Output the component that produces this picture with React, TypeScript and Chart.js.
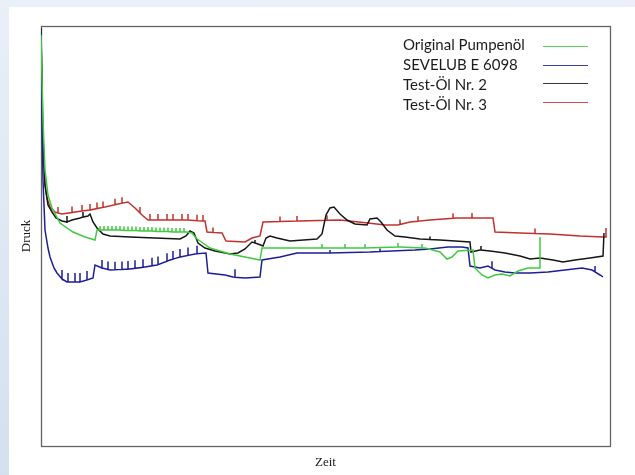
import React, { useEffect, useRef } from "react";
import { Chart, registerables } from "chart.js";

Chart.register(...registerables);

type Pt = [number, number];
type Spike = [number, number, number]; // [zeit, base druck, spike height]

const seriesNames = ["Original Pumpenöl", "SEVELUB E 6098", "Test-Öl Nr. 2", "Test-Öl Nr. 3"];
const seriesColors = ["#3fcb3f", "#1e1e98", "#161616", "#c3302e"];
const xTitle = "Zeit";
const yTitle = "Druck";
const zeitRange: Pt = [0, 569];
const druckRange: Pt = [0, 420];

// Original Pumpenöl
const greenValues: Pt[] = [
  [0, 411], [2, 326], [4, 276], [7, 251], [11, 238], [19, 223], [32, 214], [44, 209], [54, 206],
  [56, 216], [79, 216], [109, 215], [146, 214], [151, 213], [155, 208], [159, 205], [169, 198],
  [189, 192], [209, 188], [219, 186], [221, 198], [259, 198], [309, 198], [359, 199], [384, 198],
  [399, 194], [406, 187], [411, 189], [417, 195], [432, 196], [434, 178], [441, 171], [447, 168],
  [454, 171], [461, 172], [469, 170], [477, 175], [487, 178], [499, 178], [499, 209],
];
const greenSpikes: Spike[] = [
  [59, 216, 4], [63, 216, 4], [67, 216, 4], [71, 216, 4], [75, 216, 4], [79, 216, 4],
  [83, 215.5, 4], [87, 215.5, 4], [91, 215.5, 4], [95, 215.5, 4], [99, 215, 4], [103, 215, 4],
  [107, 215, 4], [111, 215, 4], [115, 214.5, 4], [119, 214.5, 4], [123, 214.5, 4], [127, 214.5, 4],
  [131, 214, 4], [135, 214, 4], [139, 214, 4], [143, 214, 4],
  [281, 198, 4], [304, 198, 4], [324, 198, 4], [357, 199, 4], [381, 198, 4],
];

// SEVELUB E 6098
const blueValues: Pt[] = [
  [0, 416], [1, 326], [2, 266], [4, 216], [7, 198], [9, 189], [13, 178], [16, 173], [21, 167],
  [26, 164], [39, 164], [52, 168], [54, 181], [61, 178], [69, 176], [89, 177], [104, 179],
  [116, 181], [129, 186], [139, 189], [154, 192], [165, 193], [167, 173], [184, 171], [192, 169],
  [204, 168], [219, 169], [221, 186], [239, 189], [256, 193], [289, 193], [329, 194], [374, 196],
  [389, 197], [407, 199], [421, 199], [427, 198], [429, 180], [439, 178], [447, 180], [454, 176],
  [464, 174], [474, 173], [489, 173], [507, 174], [524, 176], [541, 178], [551, 176], [559, 171],
  [562, 169],
];
const blueSpikes: Spike[] = [
  [21, 167, 9], [27, 164, 9], [34, 164, 9], [39, 164, 9], [46, 166, 9],
  [61, 178, 8], [67, 176.5, 8], [74, 176.3, 8], [81, 176.6, 8], [87, 176.9, 8], [94, 177.7, 8],
  [102, 178.7, 8], [111, 180.2, 8], [117, 181.4, 8], [126, 184.8, 8], [132, 186.9, 8],
  [139, 189, 8], [147, 190.6, 8], [156, 192.2, 8],
  [194, 168.8, 8], [289, 193, 3], [339, 194.5, 3], [451, 177.7, 7], [554, 174.1, 6],
];

// Test-Öl Nr. 2
const blackValues: Pt[] = [
  [0, 418], [2, 306], [4, 261], [7, 241], [11, 234], [15, 228], [21, 225], [26, 224], [31, 226],
  [39, 228], [47, 230], [49, 232], [52, 224], [56, 218], [62, 212], [69, 210], [89, 209],
  [114, 208], [139, 207], [145, 210], [149, 215], [153, 213], [157, 203], [164, 198], [174, 195],
  [189, 192], [197, 193], [204, 197], [211, 204], [217, 202], [222, 200], [225, 208], [229, 210],
  [236, 208], [249, 205], [276, 207], [281, 212], [285, 231], [289, 238], [293, 239], [299, 232],
  [306, 226], [314, 222], [326, 221], [329, 227], [336, 228], [340, 224], [346, 216], [354, 210],
  [364, 209], [379, 207], [399, 206], [414, 205], [429, 204], [430, 194], [439, 196], [449, 195],
  [464, 193], [479, 190], [489, 187], [499, 188], [512, 186], [522, 184], [534, 186], [549, 188],
  [562, 190], [563, 213],
];
const blackSpikes: Spike[] = [
  [26, 224, 6], [42, 229, 5], [214, 203, 3], [389, 206.5, 3], [440, 196, 4],
];

// Test-Öl Nr. 3
const redValues: Pt[] = [
  [0, 416], [1, 346], [2, 296], [4, 261], [6, 248], [9, 239], [14, 234], [21, 232], [34, 234],
  [49, 236], [64, 239], [77, 242], [87, 244], [94, 238], [101, 231], [107, 226], [134, 226],
  [164, 225], [166, 214], [181, 213], [185, 205], [204, 204], [211, 208], [219, 210], [222, 224],
  [259, 225], [299, 226], [327, 223], [344, 221], [357, 221], [369, 224], [389, 226], [414, 228],
  [452, 228], [454, 214], [479, 213], [509, 212], [539, 210], [562, 209], [565, 209], [565, 218],
];
const redSpikes: Spike[] = [
  [17, 233, 6], [31, 233.5, 6], [41, 235, 6], [49, 236, 6], [56, 237.4, 6], [62, 238.6, 6],
  [74, 241.3, 6], [81, 242.8, 6], [99, 233, 6], [109, 226, 6], [117, 226, 6], [126, 226, 6],
  [132, 226, 6], [141, 226, 6], [147, 226, 6], [156, 225.3, 6], [162, 225, 6], [172, 213.6, 5],
  [239, 224.5, 5], [256, 225, 5], [286, 225.7, 5], [359, 221.5, 5], [377, 224.8, 5],
  [412, 227.8, 5], [431, 228, 5], [494, 212.5, 5],
];

function buildPoints(values: Pt[], spikes: Spike[]) {
  const pts: Pt[] = values.map((p) => [p[0], p[1]]);
  spikes.forEach(([x, b, h]) => {
    pts.push([x, b], [x, b + h], [x, b]);
  });
  return pts.sort((a, b) => a[0] - b[0]).map(([x, y]) => ({ x, y }));
}

const allValues = [greenValues, blueValues, blackValues, redValues];
const allSpikes = [greenSpikes, blueSpikes, blackSpikes, redSpikes];

const framePlugin = {
  id: "frame",
  beforeDatasetsDraw(chart: any) {
    const { ctx, chartArea: a } = chart;
    ctx.save();
    ctx.strokeStyle = "#636363";
    ctx.lineWidth = 1.3;
    ctx.strokeRect(
      Math.round(a.left) + 0.5,
      Math.round(a.top) + 0.5,
      Math.round(a.right - a.left),
      Math.round(a.bottom - a.top)
    );
    ctx.restore();
  },
};

export default function App() {
  const canvasRef = useRef<HTMLCanvasElement | null>(null);

  useEffect(() => {
    if (!canvasRef.current) return;
    const chart = new Chart(canvasRef.current, {
      type: "line",
      data: {
        datasets: seriesNames.map((name, i) => ({
          label: name,
          data: buildPoints(allValues[i], allSpikes[i]),
          borderColor: seriesColors[i],
          backgroundColor: seriesColors[i],
          borderWidth: 1.5,
          pointRadius: 0,
          tension: 0,
          fill: false,
        })),
      },
      options: {
        animation: false,
        responsive: false,
        devicePixelRatio: 1,
        layout: { padding: { left: 10, top: 26, right: 25, bottom: 2.4 } },
        plugins: { legend: { display: false }, tooltip: { enabled: false } },
        scales: {
          x: {
            type: "linear",
            min: zeitRange[0],
            max: zeitRange[1],
            ticks: { display: false },
            grid: { display: false, drawTicks: false },
            border: { display: false },
            title: {
              display: true,
              text: xTitle,
              color: "#1a1a1a",
              font: { family: "'Liberation Serif', 'DejaVu Serif', serif", size: 13 },
              padding: { top: 9, bottom: 2 },
            },
          },
          y: {
            type: "linear",
            min: druckRange[0],
            max: druckRange[1],
            ticks: { display: false },
            grid: { display: false, drawTicks: false },
            border: { display: false },
            title: {
              display: true,
              text: yTitle,
              color: "#1a1a1a",
              font: { family: "'Liberation Serif', 'DejaVu Serif', serif", size: 13 },
              padding: { top: 9, bottom: 6.4 },
            },
          },
        },
      },
      plugins: [framePlugin],
    });
    return () => chart.destroy();
  }, []);

  return (
    <div
      style={{
        position: "fixed",
        left: 0,
        top: 0,
        width: 635,
        height: 475,
        overflow: "hidden",
        background: "linear-gradient(to bottom, #eaeff8 0%, #dfe7f3 50%, #d4dff0 100%)",
      }}
    >
      <div style={{ position: "absolute", left: 9, top: 7, right: 0, bottom: 0, background: "#ffffff" }} />
      <canvas ref={canvasRef} width={635} height={475} style={{ position: "absolute", left: 0, top: 0 }} />
      <div
        style={{
          position: "absolute",
          left: 403,
          top: 34,
          fontFamily: "Lato, 'Open Sans', sans-serif",
          fontSize: 15,
          lineHeight: "20px",
          color: "#1c1c1c",
          whiteSpace: "nowrap",
        }}
      >
        {seriesNames.map((n) => (
          <div key={n} style={{ height: 20 }}>{n}</div>
        ))}
      </div>
      {seriesNames.map((n, i) => (
        <div
          key={"line" + n}
          style={{
            position: "absolute",
            left: 543,
            width: 45,
            top: Math.round(46 + i * 18.5),
            height: 1.3,
            background: seriesColors[i],
            opacity: 0.85,
          }}
        />
      ))}
    </div>
  );
}
